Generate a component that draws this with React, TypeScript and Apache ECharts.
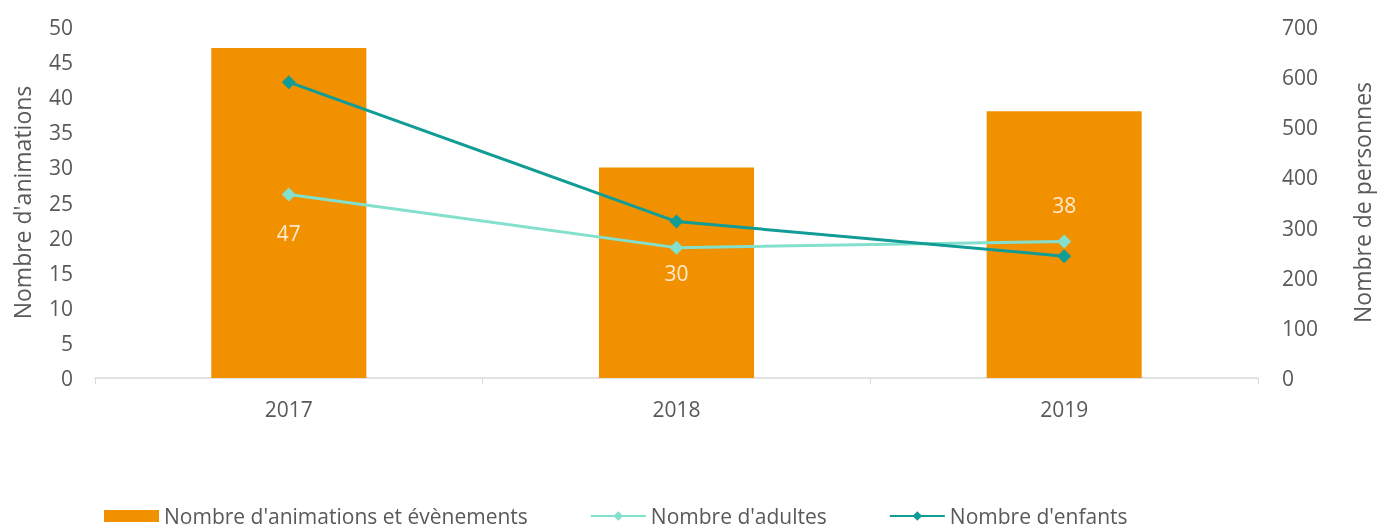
import React, { useEffect, useRef } from "react";
import * as echarts from "echarts";

const categories = ["2017", "2018", "2019"];
const animations = [47, 30, 38];
const adultes = [366, 260, 272];
const enfants = [590, 312, 243];
const leftTicks = { min: 0, max: 50, interval: 5 };
const rightTicks = { min: 0, max: 700, interval: 100 };

const labelOffsets = [[0, 20], [0, 0], [0, -40]];

const FONT = "'Open Sans', 'Noto Sans', sans-serif";
const GREY = "#595959";

export default function App() {
  const ref = useRef<HTMLDivElement>(null);
  useEffect(() => {
    if (!ref.current) return;
    const chart = echarts.init(ref.current, null, { renderer: "svg" });
    chart.setOption({
      animation: false,
      textStyle: { fontFamily: FONT },
      grid: { left: 95, right: 132, top: 27, bottom: 153 },
      legend: {
        top: 505,
        left: 104,
        padding: 0,
        itemGap: 62,
        itemWidth: 55,
        itemHeight: 12,
        textStyle: { color: GREY, fontSize: 21, lineHeight: 22, fontFamily: FONT },
        data: [
          { name: "Nombre d'animations et évènements", icon: "rect" },
          { name: "Nombre d'adultes" },
          { name: "Nombre d'enfants" },
        ],
      },
      xAxis: {
        type: "category",
        data: categories,
        boundaryGap: true,
        axisLine: { lineStyle: { color: "#d9d9d9", width: 1.5 } },
        axisTick: { show: true, length: 6, lineStyle: { color: "#d9d9d9" } },
        axisLabel: { color: GREY, fontSize: 21, margin: 20 },
      },
      yAxis: [
        {
          type: "value",
          ...leftTicks,
          name: "Nombre d'animations",
          nameLocation: "middle",
          nameGap: 62,
          nameTextStyle: { color: GREY, fontSize: 23 },
          axisLine: { show: false },
          axisTick: { show: false },
          splitLine: { show: false },
          axisLabel: { color: GREY, fontSize: 21, margin: 22 },
        },
        {
          type: "value",
          ...rightTicks,
          name: "Nombre de personnes",
          nameLocation: "middle",
          nameGap: 92,
          nameRotate: 90,
          nameTextStyle: { color: GREY, fontSize: 23 },
          axisLine: { show: false },
          axisTick: { show: false },
          splitLine: { show: false },
          axisLabel: { color: GREY, fontSize: 21, margin: 24 },
        },
      ],
      series: [
        {
          name: "Nombre d'animations et évènements",
          type: "bar",
          yAxisIndex: 0,
          barWidth: "40%",
          itemStyle: { color: "#F29100" },
          data: animations.map((v, i) => ({
            value: v,
            label: { offset: labelOffsets[i] },
          })),
          label: {
            show: true,
            position: "inside",
            color: "#FDE9CF",
            fontSize: 21,
          },
        },
        {
          name: "Nombre d'adultes",
          type: "line",
          yAxisIndex: 1,
          data: adultes,
          symbol: "diamond",
          symbolSize: 14,
          lineStyle: { color: "#82E0CD", width: 3 },
          itemStyle: { color: "#82E0CD" },
        },
        {
          name: "Nombre d'enfants",
          type: "line",
          yAxisIndex: 1,
          data: enfants,
          symbol: "diamond",
          symbolSize: 14,
          lineStyle: { color: "#119C96", width: 3 },
          itemStyle: { color: "#119C96" },
        },
      ],
    });
    return () => chart.dispose();
  }, []);
  return (
    <div
      ref={ref}
      style={{ position: "fixed", left: 0, top: 0, width: 1390, height: 531 }}
    />
  );
}
